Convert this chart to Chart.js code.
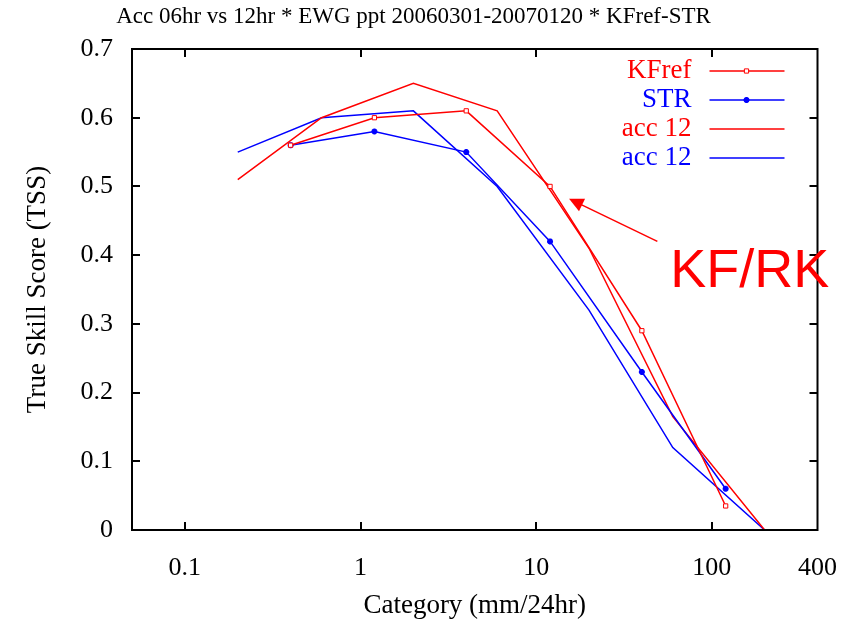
<!DOCTYPE html>
<html>
<head>
<meta charset="utf-8">
<script src="https://cdn.jsdelivr.net/npm/chart.js@4.4.0/dist/chart.umd.min.js"></script>
<style>
  body { margin: 0; background: #fff; }
  #wrap { width: 852px; height: 622px; }
</style>
</head>
<body>
<div id="wrap"><canvas id="tssChart" width="852" height="622"></canvas></div>
<script>
// categories (mm/24hr)
var cats06 = [0.4, 1.2, 4, 12, 40, 120];
var cats12 = [0.2, 0.6, 2, 6, 20, 60, 200];
// TSS values
var kfref06 = [0.56, 0.60, 0.61, 0.50, 0.29, 0.035];
var str06 = [0.56, 0.58, 0.55, 0.42, 0.23, 0.06];
var kfref12 = [0.51, 0.60, 0.65, 0.61, 0.41, 0.165, 0];
var str12 = [0.55, 0.60, 0.61, 0.50, 0.32, 0.12, 0];
// ticks
var xTicks = [0.1, 1, 10, 100, 400];
var yTicks = [0, 0.1, 0.2, 0.3, 0.4, 0.5, 0.6, 0.7];
var yTickLabels = ['0', '0.1', '0.2', '0.3', '0.4', '0.5', '0.6', '0.7'];

var RED = '#ff0000', BLUE = '#0000ff';
var serif = '"Liberation Serif", "Times New Roman", serif';

function pts(xs, ys) {
    return xs.map(function (x, i) { return { x: x, y: ys[i] }; });
}

// arrow + label, in data coords
var note = { text: 'KF/RK', tail: [49, 0.42], tip: [15.4, 0.482], textAt: [58, 0.354] };

// frame with inward ticks on all four sides
var framePlugin = {
    id: 'frame',
    afterDatasetsDraw: function (chart) {
        var ctx = chart.ctx, a = chart.chartArea;
        var xs = chart.scales.x, ys = chart.scales.y;
        ctx.save();
        ctx.strokeStyle = '#000';
        ctx.lineWidth = 2;
        ctx.strokeRect(a.left, a.top, a.right - a.left, a.bottom - a.top);
        ctx.beginPath();
        xs.ticks.forEach(function (t) {
            var px = Math.round(xs.getPixelForValue(t.value));
            if (px >= a.right - 1) return;
            ctx.moveTo(px, a.bottom); ctx.lineTo(px, a.bottom - 8);
            ctx.moveTo(px, a.top); ctx.lineTo(px, a.top + 8);
        });
        ys.ticks.forEach(function (t) {
            var py = Math.round(ys.getPixelForValue(t.value));
            ctx.moveTo(a.left, py); ctx.lineTo(a.left + 8, py);
            ctx.moveTo(a.right, py); ctx.lineTo(a.right - 8, py);
        });
        ctx.stroke();
        ctx.restore();
    },
    afterDraw: function (chart) {
        var ctx = chart.ctx, a = chart.chartArea;
        var xs = chart.scales.x, ys = chart.scales.y;
        ctx.save();
        // legend, gnuplot style: label on the left, sample on the right
        ctx.font = '27px ' + serif;
        ctx.textAlign = 'right';
        ctx.textBaseline = 'middle';
        chart.data.datasets.forEach(function (ds, i) {
            var y = a.top + 22 + i * 29;
            ctx.fillStyle = ds.borderColor;
            ctx.fillText(ds.label, a.right - 126, y);
            ctx.strokeStyle = ds.borderColor;
            ctx.lineWidth = 1.5;
            ctx.beginPath();
            ctx.moveTo(a.right - 108, y); ctx.lineTo(a.right - 33, y);
            ctx.stroke();
            if (ds.pointRadius > 0) {
                ctx.fillStyle = ds.pointBackgroundColor;
                ctx.lineWidth = ds.pointBorderWidth;
                Chart.helpers.drawPoint(ctx, { pointStyle: ds.pointStyle, radius: ds.pointRadius, rotation: 0, borderWidth: ds.pointBorderWidth }, a.right - 71, y);
            }
        });
        // arrow
        var tx = xs.getPixelForValue(note.tail[0]), ty = ys.getPixelForValue(note.tail[1]);
        var hx = xs.getPixelForValue(note.tip[0]), hy = ys.getPixelForValue(note.tip[1]);
        var ang = Math.atan2(hy - ty, hx - tx);
        ctx.strokeStyle = RED;
        ctx.fillStyle = RED;
        ctx.lineWidth = 1.5;
        ctx.beginPath();
        ctx.moveTo(tx, ty);
        ctx.lineTo(hx - 10 * Math.cos(ang), hy - 10 * Math.sin(ang));
        ctx.stroke();
        ctx.beginPath();
        ctx.moveTo(hx, hy);
        ctx.lineTo(hx - 16 * Math.cos(ang - 0.45), hy - 16 * Math.sin(ang - 0.45));
        ctx.lineTo(hx - 16 * Math.cos(ang + 0.45), hy - 16 * Math.sin(ang + 0.45));
        ctx.closePath();
        ctx.fill();
        // big label
        ctx.font = '54px "Liberation Sans", Arial, sans-serif';
        ctx.textAlign = 'left';
        ctx.textBaseline = 'alphabetic';
        ctx.fillText(note.text, xs.getPixelForValue(note.textAt[0]), ys.getPixelForValue(note.textAt[1]));
        ctx.restore();
    }
};

var ctx = document.getElementById('tssChart').getContext('2d');
var tssChart = new Chart(ctx, {
    type: 'line',
    data: {
        datasets: [{
            label: 'KFref',
            data: pts(cats06, kfref06),
            borderColor: RED,
            borderWidth: 1.5,
            pointStyle: 'rect',
            pointRadius: 3,
            pointBorderWidth: 1,
            pointBackgroundColor: '#fff',
            pointBorderColor: RED
        }, {
            label: 'STR',
            data: pts(cats06, str06),
            borderColor: BLUE,
            borderWidth: 1.5,
            pointStyle: 'star',
            pointRadius: 3,
            pointBorderWidth: 2,
            pointBackgroundColor: BLUE,
            pointBorderColor: BLUE
        }, {
            label: 'acc 12',
            data: pts(cats12, kfref12),
            borderColor: RED,
            borderWidth: 1.5,
            pointRadius: 0
        }, {
            label: 'acc 12',
            data: pts(cats12, str12),
            borderColor: BLUE,
            borderWidth: 1.5,
            pointRadius: 0
        }]
    },
    options: {
        responsive: false,
        animation: false,
        devicePixelRatio: 1,
        layout: { padding: { left: 0, right: 25, top: 0, bottom: 0 } },
        plugins: {
            legend: { display: false },
            tooltip: { enabled: false },
            title: {
                display: true,
                text: 'Acc 06hr vs 12hr * EWG ppt 20060301-20070120 * KFref-STR',
                color: '#000',
                font: { family: serif, size: 23, weight: 'normal' },
                padding: { top: 3, bottom: 18.4 }
            }
        },
        scales: {
            x: {
                type: 'logarithmic',
                min: 0.05,
                max: 400,
                grid: { display: false },
                border: { display: false },
                afterBuildTicks: function (scale) {
                    scale.ticks = xTicks.map(function (v) { return { value: v }; });
                },
                afterFit: function (scale) { scale.height = 92; },
                ticks: {
                    color: '#000',
                    padding: 15,
                    maxRotation: 0,
                    font: { family: serif, size: 26 },
                    callback: function (v) { return String(v); }
                },
                title: {
                    display: true,
                    text: 'Category (mm/24hr)',
                    color: '#000',
                    font: { family: serif, size: 27 },
                    padding: { top: 0, bottom: 0 }
                }
            },
            y: {
                min: 0,
                max: 0.7,
                grid: { display: false },
                border: { display: false },
                afterBuildTicks: function (scale) {
                    scale.ticks = yTicks.map(function (v) { return { value: v }; });
                },
                afterFit: function (scale) { scale.width = 132; },
                ticks: {
                    color: '#000',
                    padding: 11,
                    font: { family: serif, size: 26 },
                    callback: function (v, i) { return yTickLabels[i]; }
                },
                title: {
                    display: true,
                    text: 'True Skill Score (TSS)',
                    color: '#000',
                    font: { family: serif, size: 27 },
                    padding: { top: 22, bottom: 0 }
                }
            }
        }
    },
    plugins: [framePlugin]
});
</script>
</body>
</html>
